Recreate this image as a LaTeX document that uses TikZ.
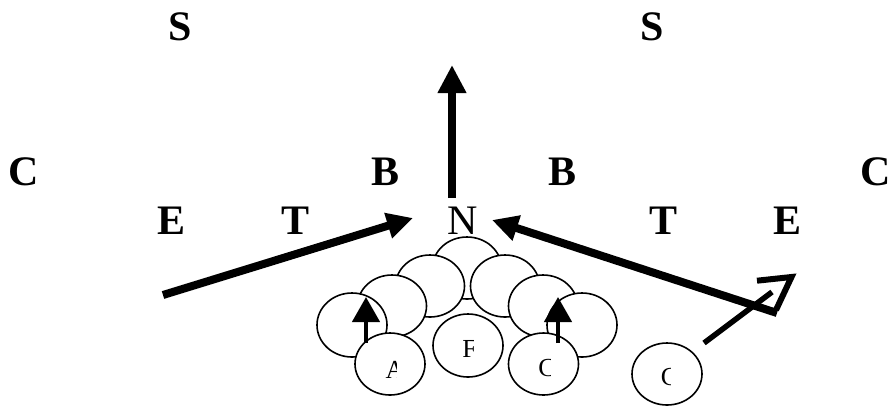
\documentclass[tikz,border=0pt]{standalone}
\usepackage{fontspec}
\setmainfont{Liberation Serif}
\usetikzlibrary{arrows.meta}

\tikzset{
  defman/.style={font=\fontsize{42}{50}\bfseries\selectfont, inner sep=0pt},
  defmanthin/.style={font=\fontsize{42}{50}\selectfont, inner sep=0pt},
  lbl/.style={font=\fontsize{26}{30}\selectfont, inner sep=0pt},
  player/.style={draw, fill=white, line width=1.6pt},
  move/.style={line width=8pt, -{Triangle[length=26pt,width=25pt]}},
  block/.style={line width=4.5pt, -{Triangle[length=25pt,width=27pt]}},
  route/.style={line width=6pt, line join=miter},
}

\begin{document}
\begin{tikzpicture}[x=1pt, y=-1pt]
\useasboundingbox (0,0) rectangle (891,405);

% defensive letters
\node[defman] (s1) at (180,27) {S};
\node[defman] (s2) at (652,27) {S};
\node[defman] (c1) at (24,172) {C};
\node[defman] (c2) at (876,172) {C};
\node[defman] (b1) at (385.5,172) {B};
\node[defman] (b2) at (562.5,172) {B};
\node[defman] (e1) at (172,221) {E};
\node[defman] (t1) at (296,221) {T};
\node[defmanthin] (n) at (463,221) {N};
\node[defman] (t2) at (663,221) {T};
\node[defman] (e2) at (787,221) {E};

% offensive line, back to front
\draw[player] (467,268) ellipse (34.5 and 31);
\draw[player] (430,286) ellipse (34.5 and 31);
\draw[player] (505,286) ellipse (34.5 and 31);
\draw[player] (392,306) ellipse (34.5 and 31);
\draw[player] (543,306) ellipse (34.5 and 31);
\draw[player] (352,325) ellipse (35 and 32);
\draw[player] (582,325) ellipse (35 and 32);
\draw[player] (390,364) ellipse (35 and 31);
\draw[player] (468,345.5) ellipse (35 and 31.5);
\draw[player] (543.5,364) ellipse (35 and 31);
\draw[player] (667,374) ellipse (35 and 31);

% backs' labels, cut off by their text boxes
\begin{scope}
  \clip (370,350) rectangle (396.5,390);
  \node[lbl] (la) at (395,369.5) {A};
\end{scope}
\begin{scope}
  \clip (450,330) rectangle (473.5,365);
  \node[lbl] (lf) at (469.5,348.5) {F};
\end{scope}
\begin{scope}
  \clip (525,350) rectangle (550.5,390);
  \node[lbl] (lc) at (547,368.5) {C};
\end{scope}
\begin{scope}
  \clip (650,360) rectangle (670.5,398);
  \node[lbl] (lc2) at (669.5,376.7) {C};
\end{scope}

% blocking and pursuit arrows
\coordinate (upbase) at (452,198);
\coordinate (uptip) at (452,65);
\draw[line width=8pt, -{Triangle[length=28pt,width=27pt]}] (upbase) -- (uptip);

\coordinate (lt) at (163,295);
\coordinate (ltip) at (413,218);
\draw[move] (lt) -- (ltip);

\coordinate (rt) at (777,313);
\coordinate (rtip) at (492,220);
\draw[move] (rt) -- (rtip);

\coordinate (ga) at (366,343);
\coordinate (gat) at (366,297);
\draw[block] (ga) -- (gat);
\coordinate (gb) at (558,343);
\coordinate (gbt) at (558,297);
\draw[block] (gb) -- (gbt);

% route with open head
\coordinate (r0) at (704,343);
\coordinate (r1) at (772,292);
\draw[line width=5.5pt] (r0) -- (r1);
\coordinate (h1) at (757,280.7);
\coordinate (hv) at (791.5,277);
\coordinate (h2) at (776,310);
\draw[route] (h1) -- (hv) -- (h2);
\end{tikzpicture}
\end{document}
